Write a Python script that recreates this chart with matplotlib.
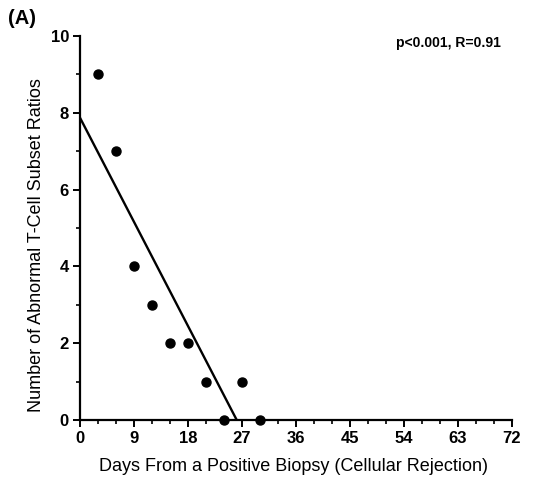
import numpy as np
import matplotlib.pyplot as plt
from matplotlib.ticker import MultipleLocator

# days after positive biopsy vs number of abnormal T-cell subset ratios
days = [3, 6, 9, 12, 15, 18, 21, 24, 27, 30]
abnormal = [9, 7, 4, 3, 2, 2, 1, 0, 1, 0]
x_ticks = [0, 9, 18, 27, 36, 45, 54, 63, 72]
y_ticks = [0, 2, 4, 6, 8, 10]
stats_text = "p<0.001, R=0.91"

plt.rcParams['font.family'] = ['Liberation Sans', 'DejaVu Sans']

fig = plt.figure(figsize=(5.41, 4.79), dpi=100)
ax = fig.add_axes([0.148, 0.123, 0.798, 0.802])

ax.plot(days, abnormal, 'o', color='black', markersize=6.5, clip_on=False, zorder=3)

# least squares fit line, drawn from 0 to where it hits zero
slope, intercept = np.polyfit(days, abnormal, 1)
x_end = -intercept / slope
ax.plot([0, x_end], [intercept, 0], color='black', linewidth=1.7)

ax.set_xlim(0, 72)
ax.set_ylim(0, 10)
ax.set_xticks(x_ticks)
ax.set_yticks(y_ticks)
ax.xaxis.set_minor_locator(MultipleLocator(3))
ax.yaxis.set_minor_locator(MultipleLocator(1))

for s in ['top', 'right']:
    ax.spines[s].set_visible(False)
for s in ['left', 'bottom']:
    ax.spines[s].set_linewidth(1.6)

ax.tick_params(which='major', direction='out', length=5, width=1.4,
               labelsize=12, pad=3)
ax.tick_params(which='minor', direction='out', length=3, width=1.2)
for lab in ax.get_xticklabels() + ax.get_yticklabels():
    lab.set_fontweight('bold')

ax.set_xlabel("Days From a Positive Biopsy (Cellular Rejection)", fontsize=13)
ax.set_ylabel("Number of Abnormal T-Cell Subset Ratios", fontsize=13)
ax.xaxis.set_label_coords(0.495, -0.098)
ax.yaxis.set_label_coords(-0.082, 0.455)

ax.text(0.975, 0.982, stats_text, transform=ax.transAxes, ha='right', va='center',
        fontsize=10, fontweight='bold')
fig.text(0.015, 0.962, "(A)", fontsize=14.5, fontweight='bold', va='center')

fig.savefig("out.png", dpi=100)
